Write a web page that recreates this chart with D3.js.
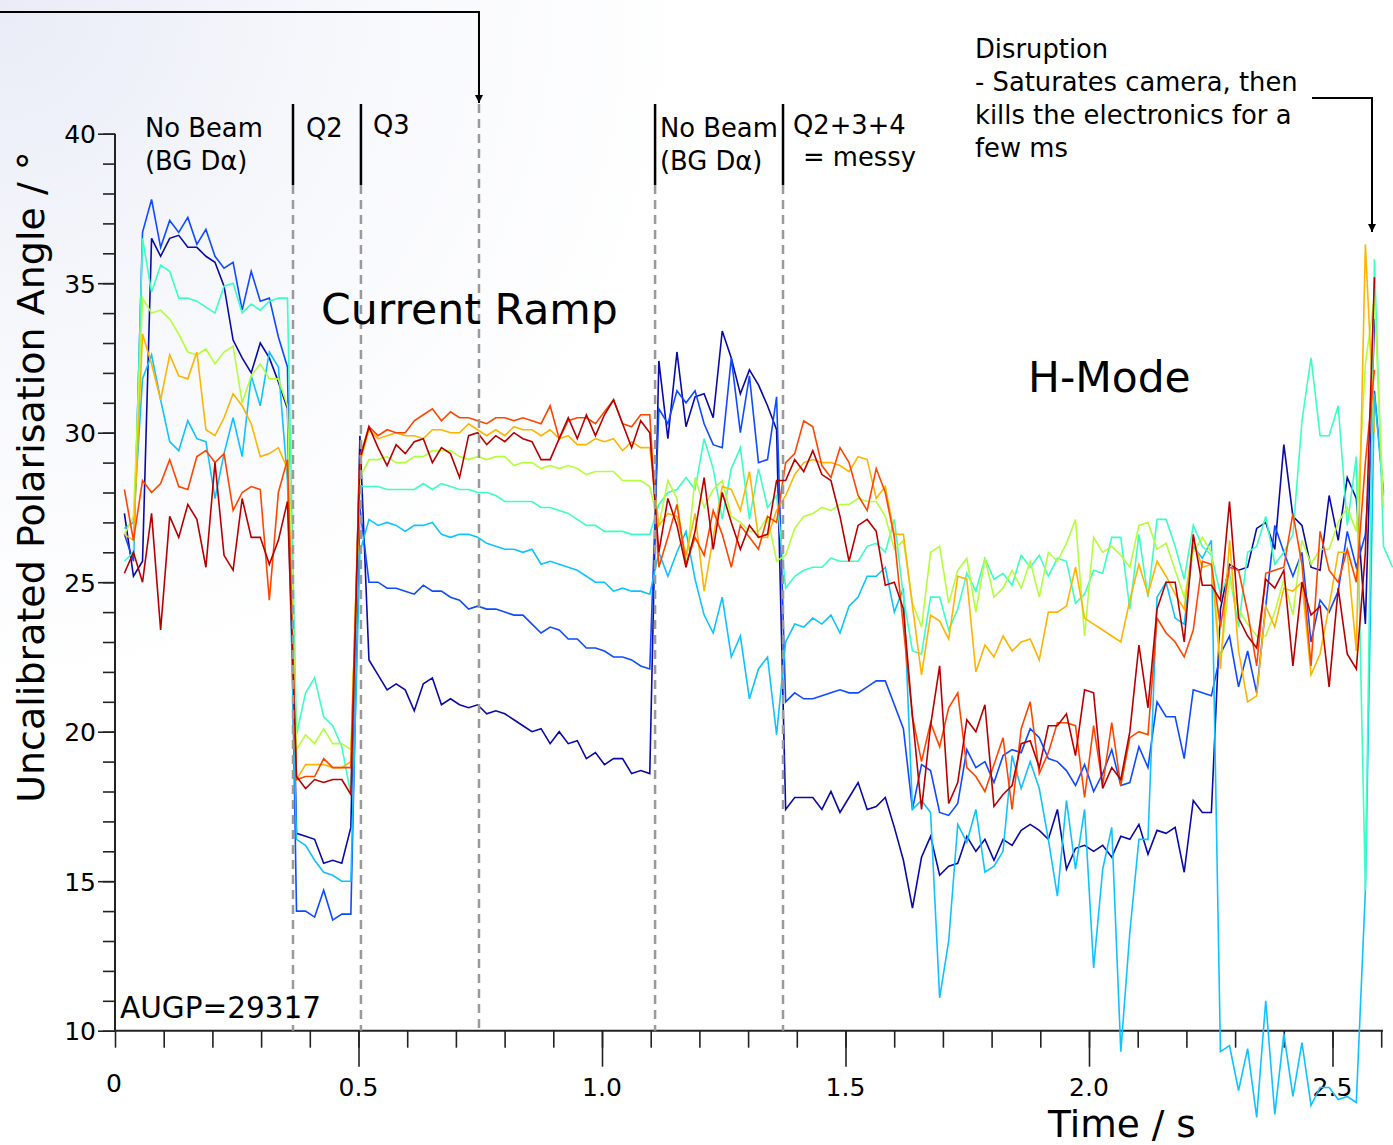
<!DOCTYPE html>
<html>
<head>
<meta charset="utf-8">
<script src="https://cdn.jsdelivr.net/npm/d3@7"></script>
<style>
html,body{margin:0;padding:0;background:#fff;}
svg{display:block;font-family:"DejaVu Sans",sans-serif;}
</style>
</head>
<body>
<div id="chart"></div>
<script>
// ---- sampling grid (time of each camera frame, s) ----
const T0 = 0.0193;
const DT = 0.0186;
const N_FRAMES = 141;

// ---- series (uncalibrated polarisation angle, degrees), one per channel ----
const seriesNames = ["ch1","ch2","ch3","ch4","ch5","ch6","ch7","ch8"];
const seriesColors = ["#0a0aa8","#0f4bff","#0fc3ff","#3cffc3","#b4ff3c","#ffb400","#ff4600","#b80000"];

const ch1 = [27.3,25.2,25.7,36.5,35.9,36.5,36.6,36.2,36.2,35.9,35.7,34.9,33.1,32.5,32.0,33.0,32.5,31.7,30.8,
16.6,16.5,16.4,15.6,15.7,15.6,16.8,
29.9,22.4,21.9,21.4,21.6,21.4,20.7,21.6,21.8,20.9,21.1,20.9,20.8,20.9,20.6,20.7,20.6,20.4,20.2,20.0,20.1,19.6,20.0,19.6,19.7,19.1,19.3,18.9,19.1,19.1,18.6,18.7,18.6,
32.4,29.8,32.7,30.2,31.2,31.3,30.5,33.4,32.5,31.3,32.1,31.6,30.9,30.1,
17.4,17.8,17.8,17.8,17.4,18.0,17.3,17.8,18.3,17.4,17.5,17.8,16.8,15.7,14.1,15.8,16.5,15.2,15.5,15.6,16.5,16.0,16.4,15.7,16.4,16.2,16.7,16.9,16.7,16.4,17.4,15.4,16.1,16.2,16.0,16.2,15.8,16.5,
16.4,16.9,15.9,16.7,16.6,16.8,15.3,17.7,17.3,17.3,
24.1,25.6,25.4,25.5,26.8,27.0,26.1,29.6,27.2,26.9,
25.5,25.4,27.9,26.4,28.5,27.8,23.6,33.8,null,null];

const ch2 = [26.6,25.7,36.7,37.8,36.2,37.1,36.7,37.2,36.3,36.8,35.9,35.5,35.7,34.1,35.4,34.4,34.5,33.2,32.2,
14.0,14.0,13.8,14.7,13.7,13.9,13.9,
27.5,25.0,25.0,24.8,24.8,24.7,24.6,24.9,24.7,24.7,24.5,24.4,24.1,24.2,24.1,24.1,24.0,23.9,23.9,23.6,23.3,23.5,23.4,23.1,23.1,22.8,22.8,22.7,22.5,22.5,22.4,22.2,22.1,
30.8,30.3,31.4,31.0,31.4,30.3,29.6,29.5,32.5,30.0,31.9,29.0,29.1,31.2,
21.0,21.3,21.1,21.1,21.2,21.3,21.4,21.3,21.3,21.5,21.7,21.7,20.9,20.1,17.4,18.9,18.7,17.3,17.2,17.6,19.4,18.8,19.0,18.3,19.2,19.4,19.3,20.1,19.8,19.1,19.0,18.7,18.2,18.9,18.0,18.6,19.4,18.2,
18.3,19.5,18.8,21.0,20.5,20.5,19.1,21.4,21.3,21.2,
22.6,23.2,21.5,22.7,21.3,24.2,26.9,26.0,25.2,26.0,
23.0,24.4,24.0,24.7,26.7,25.5,26.6,31.4,28.0,null];

const ch3 = [26.8,27.0,31.8,32.6,31.1,29.7,29.4,30.4,29.8,29.7,27.8,29.3,30.5,29.2,31.9,30.9,32.7,32.2,28.4,
16.4,16.2,15.7,15.3,15.2,15.0,15.0,
26.0,27.1,26.9,27.0,26.9,26.7,26.9,26.9,27.0,26.6,26.5,26.6,26.6,26.5,26.3,26.2,26.1,26.1,26.0,26.1,25.6,25.7,25.6,25.5,25.4,25.2,25.0,25.0,24.7,24.8,24.7,24.7,24.6,
26.0,25.2,26.0,26.7,25.1,23.9,23.3,24.5,22.5,23.2,21.1,22.1,22.5,19.9,
23.0,23.6,23.5,23.8,23.6,23.9,23.3,24.2,24.5,25.2,25.2,25.5,24.0,24.8,17.4,17.7,17.3,11.1,13.0,16.9,16.3,17.4,15.3,15.5,16.0,19.2,18.1,19.0,18.1,16.4,14.5,17.7,15.4,17.4,12.1,15.4,16.8,9.3,
13.3,16.4,16.4,24.5,25.0,23.8,23.6,26.2,25.8,26.4,
9.3,9.5,8.0,9.4,7.1,11.0,7.2,9.9,7.8,9.6,
7.5,8.1,8.1,7.7,7.8,7.6,14.7,31.3,27.9,null];

const ch4 = [25.7,26.0,36.5,34.7,35.6,35.4,34.5,34.5,34.4,34.2,34.0,34.9,35.0,34.0,34.3,34.1,34.4,34.5,34.5,
19.9,21.3,21.8,20.5,20.2,19.5,17.9,
28.2,28.2,28.2,28.1,28.1,28.1,28.1,28.3,28.1,28.3,28.2,28.1,28.1,28.0,28.0,27.9,27.7,27.7,27.7,27.7,27.5,27.5,27.4,27.3,27.1,26.9,26.9,26.7,26.7,26.7,26.6,26.6,26.6,
27.6,28.0,28.1,28.5,28.1,29.8,28.8,27.1,28.8,29.5,27.1,28.8,27.5,27.9,
24.8,25.2,25.4,25.5,25.5,25.8,25.7,25.7,25.7,26.2,26.3,26.0,27.1,24.5,22.7,22.6,24.5,24.5,23.4,24.1,25.3,24.7,25.8,25.1,25.3,24.9,25.9,25.5,25.9,25.2,25.8,25.7,24.3,24.6,25.4,25.3,26.5,26.5,
24.1,26.6,24.5,27.1,27.1,26.2,25.1,26.9,26.2,25.9,
24.6,25.3,23.5,26.0,26.2,27.2,25.6,26.0,26.6,30.4,
32.5,29.9,29.9,30.9,26.9,29.2,14.7,35.8,26.2,25.5];

const ch5 = [26.6,27.2,34.5,34.0,34.1,33.8,33.3,32.7,32.6,32.8,32.3,32.7,32.9,31.0,31.9,32.3,31.8,31.8,30.9,
19.4,19.9,19.6,20.1,19.6,19.6,19.4,
28.5,29.1,29.1,29.2,29.0,29.0,29.2,29.2,29.4,29.4,29.4,29.2,29.1,29.2,29.1,29.2,29.2,28.9,29.0,29.0,28.8,28.9,28.8,28.9,28.8,28.6,28.7,28.7,28.7,28.4,28.4,28.4,28.2,
26.9,28.4,27.8,25.5,28.5,27.5,28.1,28.4,27.2,27.0,26.7,26.7,27.2,25.7,
25.9,26.8,27.2,27.3,27.5,27.4,27.6,27.6,27.8,27.7,27.7,27.2,26.1,26.4,24.3,23.5,26.0,26.2,24.3,25.4,25.8,24.0,25.8,24.5,24.8,25.4,24.8,25.7,24.5,26.0,25.7,26.3,27.1,23.2,26.5,26.0,26.2,25.9,
25.5,26.9,27.0,26.1,26.3,25.4,24.5,26.0,26.5,26.0,
22.3,25.1,24.1,23.6,23.2,23.2,24.0,25.1,23.9,26.4,
25.6,26.1,26.1,27.0,27.5,26.7,32.3,34.5,27.5,null];

const ch6 = [26.6,26.4,33.3,32.3,31.1,32.6,31.9,31.8,32.7,30.1,29.9,30.5,31.3,30.9,30.3,29.2,29.3,29.5,28.8,
18.4,18.9,18.9,18.9,18.8,18.8,19.0,
29.0,30.1,29.8,29.9,30.0,29.9,29.9,29.8,30.1,30.1,30.0,30.0,30.3,30.1,29.9,30.1,29.9,30.2,30.1,30.1,29.9,30.1,29.8,29.9,29.6,29.6,29.8,29.7,29.8,29.4,29.7,29.5,29.5,
26.9,27.3,27.2,25.9,27.3,24.7,26.5,28.2,28.1,27.4,28.7,26.5,26.5,27.4,
27.9,28.6,29.0,29.1,29.0,29.0,28.9,28.7,29.2,29.1,27.8,28.2,26.6,26.6,24.2,21.9,23.9,23.7,23.1,25.2,25.1,22.0,22.9,22.5,23.2,22.7,23.0,23.1,22.4,24.0,24.0,24.2,25.5,23.8,23.6,23.4,23.2,23.0,
24.4,25.6,24.6,25.7,25.2,24.6,24.1,26.4,25.5,25.6,
22.1,26.4,22.7,21.0,21.2,24.2,23.5,24.8,24.7,25.0,
21.9,22.6,24.2,26.0,26.0,22.7,36.3,30.0,null,null];

const ch7 = [28.1,26.4,28.4,28.0,28.3,29.1,28.2,28.1,29.2,29.4,29.0,29.3,27.4,28.0,28.2,28.1,24.4,28.0,29.1,
18.4,18.5,18.5,19.1,18.8,18.8,18.8,
29.2,30.2,29.9,30.1,30.0,30.0,30.4,30.6,30.8,30.4,30.7,30.5,30.5,30.4,30.3,30.5,30.5,30.4,30.5,30.4,30.3,30.9,29.8,30.4,30.5,30.5,30.3,30.7,31.1,30.3,30.2,30.6,30.6,
25.5,26.5,27.6,25.6,26.5,25.9,27.4,26.6,25.5,26.9,26.5,26.1,27.2,27.0,
29.0,29.3,30.4,30.2,28.9,28.5,29.5,29.0,27.9,27.4,28.8,28.0,26.5,23.5,20.5,19.0,20.3,19.5,20.8,21.3,18.8,18.5,18.0,18.9,19.8,17.4,20.1,21.0,18.6,19.3,20.3,20.3,20.2,17.8,20.2,18.2,20.3,18.2,
19.8,20.0,19.9,23.8,23.3,23.0,22.5,23.4,25.7,25.6,
23.5,25.5,25.4,24.0,22.2,25.3,25.4,25.5,27.3,25.6,
22.2,26.7,25.4,25.0,26.1,25.0,29.0,32.1,null,null];

const ch8 = [25.3,26.0,25.0,27.3,23.4,27.2,26.5,27.6,27.1,25.5,29.0,25.9,25.4,27.8,26.5,26.5,25.6,26.4,27.7,
18.5,18.1,18.4,18.3,18.4,18.4,17.9,
29.1,30.2,29.5,28.9,29.6,29.3,29.7,29.8,29.0,29.5,29.3,28.5,29.9,30.0,29.6,29.9,29.7,30.0,29.8,29.7,29.1,29.1,29.8,30.5,29.8,30.6,29.9,30.6,31.1,30.3,29.5,30.4,30.0,
26.0,27.8,26.9,25.5,26.7,28.5,26.1,28.0,27.0,26.1,26.9,26.5,26.6,28.4,
28.4,29.1,28.7,29.4,28.6,28.4,27.2,25.7,26.9,27.1,26.7,24.9,25.0,24.1,20.5,17.4,20.2,22.2,17.6,18.3,20.4,20.0,20.9,17.5,17.9,18.2,19.6,19.7,18.8,20.2,20.2,20.6,19.2,21.4,21.3,18.1,18.8,18.4,
20.0,22.9,20.8,24.1,25.0,25.0,23.0,26.6,24.9,24.9,
24.4,27.7,23.8,23.2,22.8,25.1,24.8,25.4,22.2,25.0,
23.9,24.2,21.5,24.8,22.6,22.1,26.0,35.2,null,null];

const seriesValues = [ch1,ch2,ch3,ch4,ch5,ch6,ch7,ch8];

// ---- axes ----
const yMajorTicks = [10,15,20,25,30,35,40];
const yTickLabels = ["10","15","20","25","30","35","40"];
const xMajorTicks = [0,0.5,1.0,1.5,2.0,2.5];
const xTickLabels = ["0","0.5","1.0","1.5","2.0","2.5"];

// ---- phase markers (s) ----
const markerTimes = [0.3655,0.505,0.7474,1.109,1.3717];
const markerSolidHead = [true,true,false,true,true];

// ---- layout ----
const W = 1393, H = 1145;
const x = d3.scaleLinear().domain([0,2.6]).range([115,1381.2]);
const y = d3.scaleLinear().domain([10,40]).range([1030.7,133.7]);
const times = d3.range(N_FRAMES).map(i => T0 + DT*i);

const svg = d3.select("#chart").append("svg").attr("width",W).attr("height",H);

// background tint (top-left corner)
const defs = svg.append("defs");
const rg = defs.append("radialGradient").attr("id","bg").attr("gradientUnits","userSpaceOnUse")
  .attr("cx",0).attr("cy",0).attr("r",700);
rg.append("stop").attr("offset","0").attr("stop-color","#e9ecf7");
rg.append("stop").attr("offset","0.5").attr("stop-color","#f7f8fc");
rg.append("stop").attr("offset","1").attr("stop-color","#ffffff");
svg.append("rect").attr("width",W).attr("height",H).attr("fill","url(#bg)");

// Y axis
const gy = svg.append("g").attr("transform",`translate(${x(0)},0)`);
gy.call(d3.axisLeft(y).tickValues(d3.range(10,41,1)).tickSize(12).tickSizeOuter(0).tickFormat(""));
gy.call(g => g.select(".domain").remove());
const gy2 = svg.append("g").attr("transform",`translate(${x(0)},0)`);
gy2.call(d3.axisLeft(y).tickValues(yMajorTicks).tickSize(17).tickSizeOuter(0)
  .tickFormat((d,i)=>yTickLabels[i]));
gy2.select(".domain").remove();
gy2.selectAll("text").attr("font-size",25).attr("font-family","DejaVu Sans").attr("fill","#000").attr("x",-19).attr("dy","0.36em");
svg.append("line").attr("x1",x(0)).attr("x2",x(0)).attr("y1",y(40)).attr("y2",y(10))
  .attr("stroke","#222").attr("stroke-width",2);

// X axis
const gx = svg.append("g").attr("transform",`translate(0,${y(10)})`);
gx.call(d3.axisBottom(x).tickValues(d3.range(0,2.61,0.1)).tickSize(17).tickSizeOuter(0).tickFormat(""));
gx.select(".domain").remove();
const gx2 = svg.append("g").attr("transform",`translate(0,${y(10)})`);
gx2.call(d3.axisBottom(x).tickValues(xMajorTicks.slice(1)).tickSize(36).tickSizeOuter(0).tickFormat(""));
gx2.select(".domain").remove();
svg.selectAll("g line").attr("stroke","#222").attr("stroke-width",1.6);
svg.append("line").attr("x1",x(0)).attr("x2",1383).attr("y1",y(10)).attr("y2",y(10))
  .attr("stroke","#222").attr("stroke-width",2);
svg.append("g").selectAll("text").data(xMajorTicks).join("text")
  .attr("x",d=>x(d)+ (d===0?-1:0)).attr("y",d=>d===0?1092:1096)
  .attr("text-anchor","middle").attr("font-size",25).text((d,i)=>xTickLabels[i]);

// axis titles
svg.append("text").attr("transform","translate(44,477) rotate(-90)").attr("text-anchor","middle")
  .attr("font-size",38).text("Uncalibrated Polarisation Angle / °");
svg.append("text").attr("x",1122).attr("y",1137).attr("text-anchor","middle")
  .attr("font-size",37.5).text("Time / s");

// data lines
const line = d3.line().defined(d=>d[1]!==null).x(d=>x(d[0])).y(d=>y(d[1]));
svg.append("g").selectAll("path").data(seriesValues).join("path")
  .attr("d",vals => line(vals.map((v,i)=>[times[i],v])))
  .attr("fill","none").attr("stroke",(d,i)=>seriesColors[i]).attr("stroke-width",1.6)
  .attr("stroke-linejoin","miter");

// phase markers
const mk = svg.append("g");
markerTimes.forEach((t,i)=>{
  const top = markerSolidHead[i] ? 185 : 104;
  mk.append("line").attr("x1",x(t)).attr("x2",x(t)).attr("y1",top).attr("y2",y(10))
    .attr("stroke","#9a9a9a").attr("stroke-width",2.5).attr("stroke-dasharray","9,6");
  if(markerSolidHead[i]){
    mk.append("line").attr("x1",x(t)).attr("x2",x(t)).attr("y1",104).attr("y2",185)
      .attr("stroke","#000").attr("stroke-width",2.5);
  }
});

// arrows
defs.append("marker").attr("id","arr").attr("viewBox","0 0 10 10").attr("refX",10).attr("refY",5)
  .attr("markerWidth",8).attr("markerHeight",8).attr("markerUnits","userSpaceOnUse").attr("orient","auto")
  .append("path").attr("d","M0,0L10,5L0,10Z").attr("fill","#000");
svg.append("path").attr("d",`M0,12H${x(markerTimes[2])}V103`).attr("fill","none")
  .attr("stroke","#000").attr("stroke-width",2).attr("marker-end","url(#arr)");
svg.append("path").attr("d","M1312,98H1372V232").attr("fill","none")
  .attr("stroke","#000").attr("stroke-width",2).attr("marker-end","url(#arr)");

// annotation text
const ann = svg.append("g").attr("font-size",25.8).attr("fill","#000");
const addT = (tx,ty,s,fs)=>ann.append("text").attr("x",tx).attr("y",ty).attr("font-size",fs||null).text(s);
addT(145,137,"No Beam"); addT(145,170,"(BG Dα)");
addT(306,137,"Q2"); addT(373,134,"Q3");
addT(660,137,"No Beam"); addT(660,170,"(BG Dα)");
addT(793,134,"Q2+3+4"); addT(803,166,"= messy");
addT(975,58,"Disruption"); addT(975,91,"- Saturates camera, then");
addT(975,124,"kills the electronics for a"); addT(975,157,"few ms");
addT(321,324,"Current Ramp",42.6); addT(1028,392,"H-Mode",42.4);
addT(120,1018,"AUGP=29317",29.5);
</script>
</body>
</html>
